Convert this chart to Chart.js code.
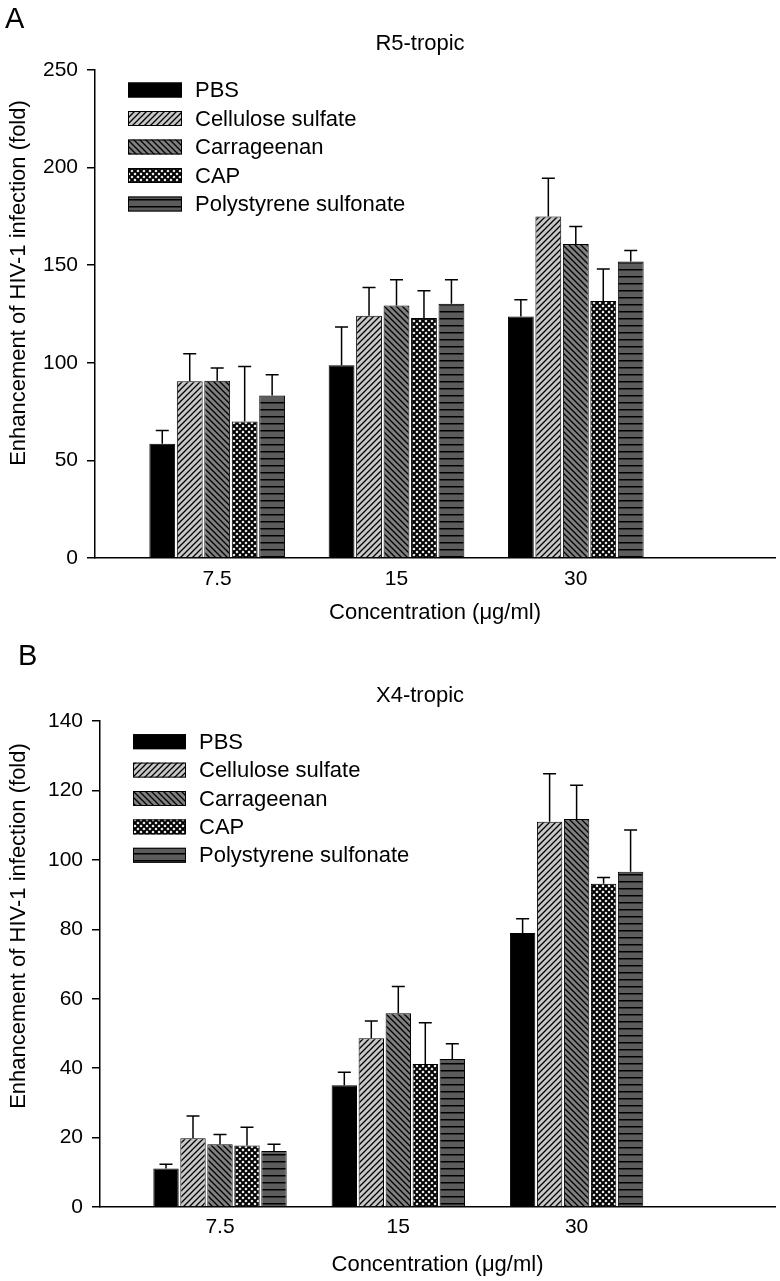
<!DOCTYPE html>
<html><head><meta charset="utf-8">
<script src="https://cdn.jsdelivr.net/npm/chart.js@4.4.0/dist/chart.umd.min.js"></script>
<style>
html,body{margin:0;padding:0;background:#fff;}
#wrap{position:relative;width:780px;height:1281px;overflow:hidden;}
#ca{position:absolute;left:0;top:0;}
#cb{position:absolute;left:0;top:640px;}
</style></head><body>
<div id="wrap"><canvas id="ca" width="780" height="640"></canvas><canvas id="cb" width="780" height="641"></canvas></div>
<script>
// ---- data ----
const categories = ['7.5', '15', '30'];
const seriesNames = ['PBS', 'Cellulose sulfate', 'Carrageenan', 'CAP', 'Polystyrene sulfonate'];

const r5PBS = [58.5, 98.8, 123.7];
const r5PBSErr = [6.8, 19.5, 8.6];
const r5Cellulose = [90.6, 124.1, 174.9];
const r5CelluloseErr = [14.0, 14.5, 19.7];
const r5Carrageenan = [90.8, 129.3, 160.8];
const r5CarrageenanErr = [6.5, 13.2, 9.0];
const r5CAP = [69.9, 122.9, 131.7];
const r5CAPErr = [28.2, 14.0, 16.3];
const r5PSS = [83.3, 130.2, 151.9];
const r5PSSErr = [10.6, 12.3, 5.6];

const x4PBS = [11.1, 35.1, 78.9];
const x4PBSErr = [1.2, 3.7, 4.1];
const x4Cellulose = [19.8, 48.6, 111.0];
const x4CelluloseErr = [6.4, 5.0, 13.8];
const x4Carrageenan = [18.1, 55.8, 111.8];
const x4CarrageenanErr = [2.8, 7.7, 9.7];
const x4CAP = [17.7, 41.2, 93.1];
const x4CAPErr = [5.3, 11.9, 1.8];
const x4PSS = [16.1, 42.6, 96.6];
const x4PSSErr = [2.0, 4.4, 12.0];

const r5Ticks = [0, 50, 100, 150, 200, 250];
const x4Ticks = [0, 20, 40, 60, 80, 100, 120, 140];

const FONT = '"Liberation Sans", Arial, sans-serif';

// ---- patterns ----
function makePattern(kind) {
  const c = document.createElement('canvas');
  const g = c.getContext('2d');
  if (kind === 'fwd' || kind === 'back') {
    c.width = 6; c.height = 6;
    g.fillStyle = kind === 'fwd' ? '#c8c8c8' : '#808080';
    g.fillRect(0, 0, 6, 6);
    g.strokeStyle = '#000'; g.lineWidth = 1.3;
    g.beginPath();
    if (kind === 'fwd') {
      g.moveTo(-1, 7); g.lineTo(7, -1);
      g.moveTo(-1, 1); g.lineTo(1, -1);
      g.moveTo(5, 7); g.lineTo(7, 5);
    } else {
      g.moveTo(-1, -1); g.lineTo(7, 7);
      g.moveTo(-1, 5); g.lineTo(1, 7);
      g.moveTo(5, -1); g.lineTo(7, 1);
    }
    g.stroke();
  } else if (kind === 'cross') {
    c.width = 6; c.height = 6;
    g.fillStyle = '#fff'; g.fillRect(0, 0, 6, 6);
    g.strokeStyle = '#000'; g.lineWidth = 2.0;
    g.beginPath();
    g.moveTo(-1, -1); g.lineTo(7, 7);
    g.moveTo(-1, 7); g.lineTo(7, -1);
    g.stroke();
  } else if (kind === 'horiz') {
    c.width = 4; c.height = 7;
    g.fillStyle = '#5c5c5c'; g.fillRect(0, 0, 4, 7);
    g.fillStyle = '#000'; g.fillRect(0, 3, 4, 1.5);
  }
  return document.createElement('canvas').getContext('2d').createPattern(c, 'repeat');
}
const fills = ['#000000', makePattern('fwd'), makePattern('back'), makePattern('cross'), makePattern('horiz')];

// ---- plugins ----
const errorBars = {
  id: 'errorBars',
  afterDatasetsDraw(chart) {
    const ctx = chart.ctx, y = chart.scales.y;
    chart.data.datasets.forEach((ds, di) => {
      const meta = chart.getDatasetMeta(di);
      meta.data.forEach((bar, i) => {
        const v = ds.data[i].y, e = ds.errors[i];
        const yTop = y.getPixelForValue(v + e), yBar = y.getPixelForValue(v);
        ctx.save();
        ctx.strokeStyle = '#000'; ctx.lineWidth = 1.5;
        ctx.beginPath();
        ctx.moveTo(bar.x, yBar); ctx.lineTo(bar.x, yTop);
        ctx.moveTo(bar.x - 6.5, yTop); ctx.lineTo(bar.x + 6.5, yTop);
        ctx.stroke();
        ctx.restore();
      });
    });
  }
};

const annotations = {
  id: 'annotations',
  afterDraw(chart, args, o) {
    const ctx = chart.ctx;
    ctx.save();
    ctx.fillStyle = '#000';
    // panel letter
    ctx.font = '29px ' + FONT; ctx.textBaseline = 'alphabetic'; ctx.textAlign = 'left';
    ctx.fillText(o.letter, o.letterX, o.letterY);
    // panel title
    ctx.font = '22px ' + FONT; ctx.textBaseline = 'middle'; ctx.textAlign = 'center';
    ctx.fillText(o.title, o.titleX, o.titleY);
    // y axis title
    ctx.save();
    ctx.translate(o.yTitleX, o.yTitleY); ctx.rotate(-Math.PI / 2);
    ctx.textBaseline = 'alphabetic'; ctx.textAlign = 'center';
    ctx.fillText('Enhancement of HIV-1 infection (fold)', 0, 0);
    ctx.restore();
    // legend
    ctx.textAlign = 'left'; ctx.textBaseline = 'middle';
    chart.data.datasets.forEach((ds, k) => {
      const cy = o.legY + k * o.legStep;
      ctx.fillStyle = ds.backgroundColor;
      ctx.fillRect(o.legX, cy - 7.5, o.legW, 15);
      ctx.strokeStyle = '#000'; ctx.lineWidth = 1;
      ctx.strokeRect(o.legX + 0.5, cy - 7, o.legW - 1, 14);
      ctx.fillStyle = '#000';
      ctx.fillText(ds.label, o.legTextX, cy + 1);
    });
    ctx.restore();
  }
};

function build(id, cfg) {
  const datasets = seriesNames.map((name, k) => ({
    label: name,
    data: cfg.values[k].map((v, i) => ({ x: i, y: v })),
    errors: cfg.errors[k],
    backgroundColor: fills[k],
    borderColor: '#000',
    borderWidth: 1,
    categoryPercentage: cfg.cp,
    barPercentage: 0.94
  }));
  return new Chart(document.getElementById(id), {
    type: 'bar',
    data: { datasets },
    plugins: [errorBars, annotations],
    options: {
      responsive: false, animation: false, devicePixelRatio: 1,
      layout: { padding: { left: 0, right: 5, top: cfg.top, bottom: 0 } },
      plugins: { legend: { display: false }, tooltip: { enabled: false }, annotations: cfg.ann },
      scales: {
        x: {
          type: 'linear', offset: false, min: cfg.xmin, max: cfg.xmax,
          afterBuildTicks: (s) => { s.ticks = categories.map((c, i) => ({ value: i })); },
          afterFit: (s) => { s.height = cfg.xh; },
          grid: { display: false, drawTicks: false, offset: false },
          border: { display: true, color: '#000', width: 1.5 },
          ticks: { padding: cfg.xpad, color: '#000', font: { size: 21, family: FONT }, autoSkip: false, maxRotation: 0,
                   callback: (v) => categories[v] },
          title: { display: true, text: 'Concentration (\u03bcg/ml)', color: '#000', font: { size: 22, family: FONT },
                   padding: { top: 0, bottom: cfg.xtpad } }
        },
        y: {
          min: 0, max: cfg.ymax,
          afterBuildTicks: (s) => { s.ticks = cfg.yticks.map(v => ({ value: v })); },
          afterFit: (s) => { s.width = cfg.yw; },
          grid: { drawOnChartArea: false, drawTicks: true, tickLength: 8, color: '#000', lineWidth: 1.5 },
          border: { display: true, color: '#000', width: 1.5 },
          ticks: { padding: 9, color: '#000', font: { size: 21, family: FONT } }
        }
      }
    }
  });
}

build('ca', {
  values: [r5PBS, r5Cellulose, r5Carrageenan, r5CAP, r5PSS],
  errors: [r5PBSErr, r5CelluloseErr, r5CarrageenanErr, r5CAPErr, r5PSSErr],
  cp: 0.766, xmin: (95 - 217.2) / 179.3, xmax: (775 - 217.2) / 179.3,
  top: 70, xh: 82, xpad: 8.4, xtpad: 13.8, yw: 95, ymax: 250, yticks: r5Ticks,
  ann: { letter: 'A', letterX: 5, letterY: 28, title: 'R5-tropic', titleX: 420, titleY: 44,
         yTitleX: 25, yTitleY: 283, legX: 128, legW: 54, legTextX: 195, legY: 90, legStep: 28.5 }
});

build('cb', {
  values: [x4PBS, x4Cellulose, x4Carrageenan, x4CAP, x4PSS],
  errors: [x4PBSErr, x4CelluloseErr, x4CarrageenanErr, x4CAPErr, x4PSSErr],
  cp: 0.757, xmin: (100 - 220) / 178.3, xmax: (775 - 220) / 178.3,
  top: 81, xh: 74, xpad: 7.4, xtpad: 2.8, yw: 100, ymax: 140, yticks: x4Ticks,
  ann: { letter: 'B', letterX: 18, letterY: 25, title: 'X4-tropic', titleX: 420, titleY: 56,
         yTitleX: 25, yTitleY: 286, legX: 133, legW: 53, legTextX: 199, legY: 101.7, legStep: 28.4 }
});
</script>
</body></html>
